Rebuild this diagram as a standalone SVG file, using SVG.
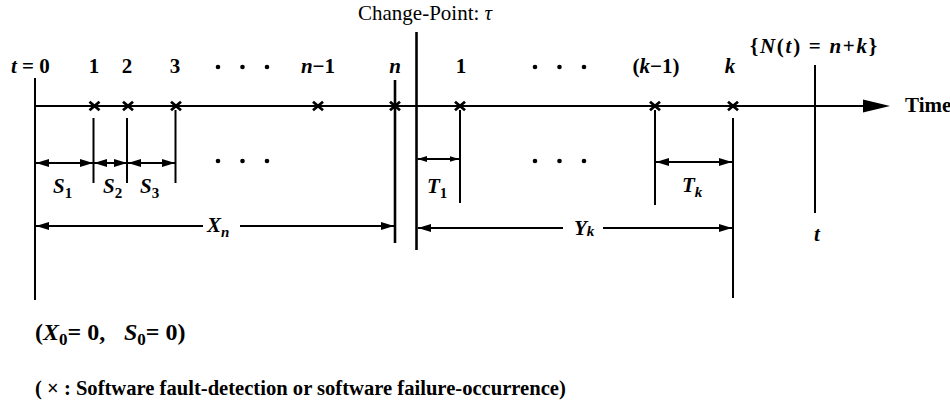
<svg xmlns="http://www.w3.org/2000/svg" width="950" height="402" viewBox="0 0 950 402" font-family="Liberation Serif, DejaVu Serif, serif">
<style>
text{font-family:'Liberation Serif','DejaVu Serif',serif;font-size:21px;font-weight:bold;fill:#000}
.i{font-style:italic}
.m{text-anchor:middle}
.ln{stroke:#000;stroke-width:2;fill:none}
.thk{stroke:#000;stroke-width:2.6;fill:none}
.x{stroke:#000;stroke-width:2.8;fill:none}
.dim{stroke:#000;stroke-width:2;fill:none;marker-start:url(#ah);marker-end:url(#ah)}
.dims{stroke:#000;stroke-width:2;fill:none;marker-start:url(#ahs);marker-end:url(#ahs)}
.dimE{stroke:#000;stroke-width:2;fill:none;marker-end:url(#ah)}
.dimS{stroke:#000;stroke-width:2;fill:none;marker-start:url(#ah)}
.sub{font-size:15px}
</style>
<defs>
<marker id="ah" markerUnits="userSpaceOnUse" markerWidth="14" markerHeight="10" viewBox="0 0 14 10" refX="13" refY="5" orient="auto-start-reverse"><path d="M0,1 L13,5 L0,9 z" fill="#000"/></marker>
<marker id="ahs" markerUnits="userSpaceOnUse" markerWidth="10" markerHeight="8" viewBox="0 0 10 8" refX="9.5" refY="4" orient="auto-start-reverse"><path d="M0,1 L9.5,4 L0,7 z" fill="#000"/></marker>
<path id="xm" d="M-5,-4.2 L5,4.2 M-5,4.2 L5,-4.2" class="x"/>
</defs>

<g id="time-axis">
<line class="ln" x1="35" y1="106" x2="865" y2="106"/>
<path d="M863,99.5 L890,106 L863,112.5 z" fill="#000"/>
<text x="905" y="112">Time</text>
</g>

<g id="origin">
<line class="ln" x1="35" y1="78" x2="35" y2="300"/>
<text x="11" y="73"><tspan class="i">t</tspan> = 0</text>
</g>

<g id="event-1">
<use href="#xm" x="94.5" y="106"/>
<line class="ln" x1="93.5" y1="118" x2="93.5" y2="183"/>
<text class="m" x="94" y="73">1</text>
</g>
<g id="event-2">
<use href="#xm" x="128" y="106"/>
<line class="ln" x1="127" y1="118" x2="127" y2="183"/>
<text class="m" x="127" y="73">2</text>
</g>
<g id="event-3">
<use href="#xm" x="176" y="106"/>
<line class="ln" x1="175.5" y1="110" x2="175.5" y2="183"/>
<text class="m" x="175" y="73">3</text>
</g>
<g id="dots-left">
<circle cx="218" cy="67" r="2.3"/><circle cx="242.5" cy="67" r="2.3"/><circle cx="267" cy="67" r="2.3"/>
<circle cx="218" cy="161" r="2.3"/><circle cx="242.5" cy="161" r="2.3"/><circle cx="267" cy="161" r="2.3"/>
</g>
<g id="event-n-1">
<use href="#xm" x="318" y="106"/>
<text class="m" x="318" y="73"><tspan class="i">n</tspan>−1</text>
</g>
<g id="event-n">
<line class="thk" x1="395" y1="80" x2="395" y2="243"/>
<use href="#xm" x="395" y="106"/>
<text class="m i" x="395" y="73">n</text>
</g>
<g id="change-point">
<line class="thk" x1="416.5" y1="32" x2="416.5" y2="250"/>
<text x="358" y="20" style="font-weight:normal">Change-Point: <tspan class="i">τ</tspan></text>
</g>
<g id="event-after-1">
<use href="#xm" x="460" y="106"/>
<line class="ln" x1="460" y1="110" x2="460" y2="203"/>
<text class="m" x="461" y="73">1</text>
</g>
<g id="dots-right">
<circle cx="535" cy="67" r="2.3"/><circle cx="559.5" cy="67" r="2.3"/><circle cx="584" cy="67" r="2.3"/>
<circle cx="535" cy="161" r="2.3"/><circle cx="559.5" cy="161" r="2.3"/><circle cx="584" cy="161" r="2.3"/>
</g>
<g id="event-k-1">
<use href="#xm" x="655" y="106"/>
<line class="ln" x1="655" y1="110" x2="655" y2="205"/>
<text class="m" x="656" y="73">(<tspan class="i">k</tspan>−1)</text>
</g>
<g id="event-k">
<use href="#xm" x="733" y="106"/>
<line class="ln" x1="733" y1="118" x2="733" y2="298"/>
<text class="m i" x="730" y="73">k</text>
</g>
<g id="observation-t">
<line class="ln" x1="815" y1="65" x2="815" y2="213"/>
<text x="750" y="53" textLength="127" lengthAdjust="spacing">{<tspan class="i">N</tspan>(<tspan class="i">t</tspan>) = <tspan class="i">n</tspan>+<tspan class="i">k</tspan>}</text>
<text class="m i" x="817" y="241">t</text>
</g>

<g id="connectors">
<line class="dim" x1="36" y1="163" x2="93" y2="163"/>
<line class="dim" x1="94" y1="163" x2="127" y2="163"/>
<line class="dim" x1="128" y1="163" x2="175" y2="163"/>
<line class="dims" x1="417.5" y1="159" x2="459" y2="159"/>
<line class="dim" x1="656" y1="162" x2="732" y2="162"/>
<line class="dimS" x1="36" y1="226" x2="203" y2="226"/>
<line class="dimE" x1="240" y1="226" x2="394" y2="226"/>
<line class="dimS" x1="418" y1="228" x2="563" y2="228"/>
<line class="dimE" x1="603" y1="228" x2="732" y2="228"/>
</g>

<g id="labels">
<text x="53" y="193"><tspan class="i">S</tspan><tspan class="sub" dy="5">1</tspan></text>
<text x="103" y="193"><tspan class="i">S</tspan><tspan class="sub" dy="5">2</tspan></text>
<text x="140" y="193"><tspan class="i">S</tspan><tspan class="sub" dy="5">3</tspan></text>
<text x="427" y="193"><tspan class="i">T</tspan><tspan class="sub" dy="5">1</tspan></text>
<text x="682" y="192"><tspan class="i">T</tspan><tspan class="sub i" dy="5">k</tspan></text>
<text x="207" y="232"><tspan class="i">X</tspan><tspan class="sub i" dy="5">n</tspan></text>
<text x="574" y="235"><tspan class="i">Y</tspan><tspan class="sub i" dy="1">k</tspan></text>
</g>

<g id="notes">
<text x="35" y="340" style="font-size:24px">(<tspan class="i">X</tspan><tspan style="font-size:17px" dy="5">0</tspan><tspan dy="-5">= 0,</tspan><tspan x="124" class="i">S</tspan><tspan style="font-size:17px" dy="5">0</tspan><tspan dy="-5">= 0)</tspan></text>
<text x="35" y="395" style="font-size:20.6px">( × : Software fault-detection or software failure-occurrence)</text>
</g>
</svg>
